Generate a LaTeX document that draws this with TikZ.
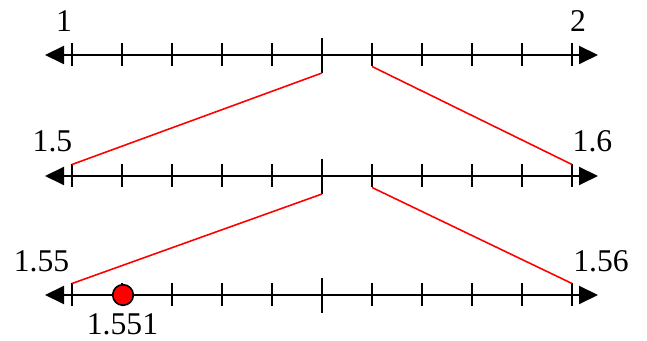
\documentclass[tikz,border=0pt]{standalone}
\usepackage{fontspec}
\setmainfont{Liberation Serif}
\usetikzlibrary{arrows.meta}

\begin{document}
\begin{tikzpicture}[
    numline/.style={line width=1.1pt, {Triangle[length=0.38cm, width=0.36cm]}-{Triangle[length=0.38cm, width=0.36cm]}},
    tick/.style={line width=1.1pt},
    zoomline/.style={red, line width=0.9pt},
    numlabel/.style={anchor=base, inner sep=0pt, font=\fontsize{18}{20}\selectfont}
]
    \useasboundingbox (0,0) rectangle (12.94,6.82);

    % ============================================================
    % NUMBER LINE 1 TO 2
    % ============================================================
    \draw[numline] (0.90,5.72) -- (11.96,5.72);
    \foreach \u in {1.44,2.44,3.44,4.44,5.44,7.44,8.44,9.44,10.44,11.44}
        \draw[tick] (\u,5.95) -- (\u,5.49);
    \draw[tick] (6.44,6.06) -- (6.44,5.36);
    \node[numlabel] (one) at (1.28,6.18) {1};
    \node[numlabel] (two) at (11.56,6.18) {2};

    % ============================================================
    % NUMBER LINE 1.5 TO 1.6
    % ============================================================
    \draw[numline] (0.90,3.30) -- (11.96,3.30);
    \foreach \u in {1.44,2.44,3.44,4.44,5.44,7.44,8.44,9.44,10.44,11.44}
        \draw[tick] (\u,3.53) -- (\u,3.07);
    \draw[tick] (6.44,3.64) -- (6.44,2.94);
    \node[numlabel] (onefive) at (1.05,3.78) {1.5};
    \node[numlabel] (onesix) at (11.85,3.78) {1.6};

    % ============================================================
    % NUMBER LINE 1.55 TO 1.56
    % ============================================================
    \draw[numline] (0.90,0.92) -- (11.96,0.92);
    \foreach \u in {1.44,2.44,3.44,4.44,5.44,7.44,8.44,9.44,10.44,11.44}
        \draw[tick] (\u,1.15) -- (\u,0.69);
    \draw[tick] (6.44,1.26) -- (6.44,0.56);
    \node[numlabel] (onefivefive) at (0.83,1.39) {1.55};
    \node[numlabel] (onefivesix) at (12.02,1.39) {1.56};

    % ============================================================
    % ZOOM LINES (RED)
    % ============================================================
    \draw[zoomline] (6.44,5.36) -- (1.44,3.53);
    \draw[zoomline] (7.44,5.49) -- (11.44,3.53);
    \draw[zoomline] (6.44,2.94) -- (1.44,1.15);
    \draw[zoomline] (7.44,3.07) -- (11.44,1.15);

    % ============================================================
    % POINT 1.551
    % ============================================================
    \filldraw[fill=red, draw=black, line width=0.9pt] (2.46,0.92) circle (0.206cm);
    \node[numlabel] (point) at (2.45,0.12) {1.551};

\end{tikzpicture}
\end{document}
